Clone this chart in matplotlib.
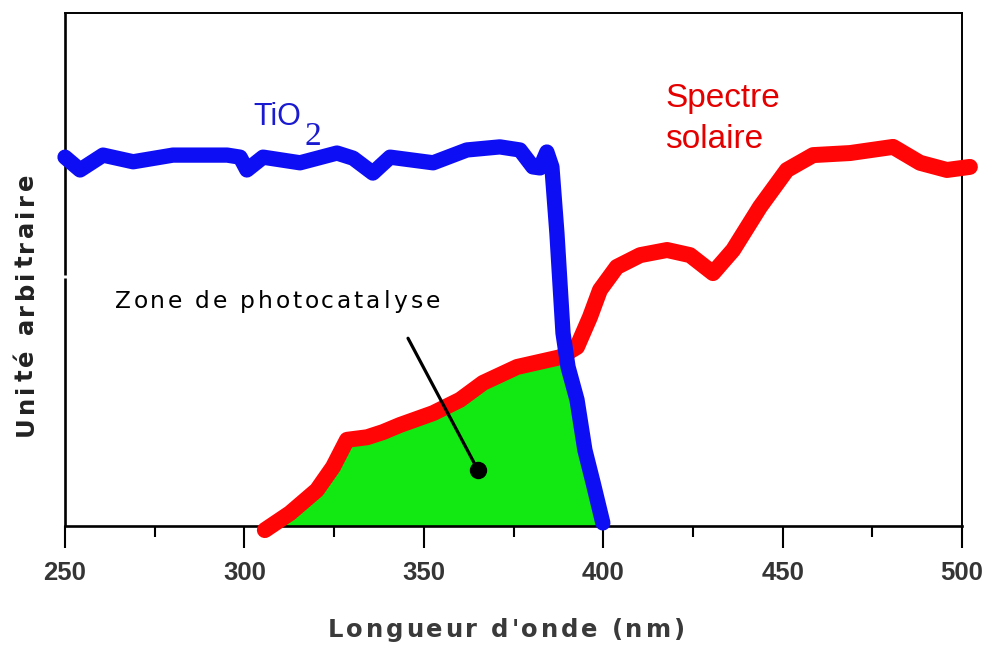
import numpy as np
import matplotlib
matplotlib.use("Agg")
import matplotlib.pyplot as plt
from matplotlib.font_manager import FontProperties

# ---------------- data ----------------
tio2_nm = [250.0, 254.2, 260.6, 269.0, 280.1, 295.2, 298.8, 300.7, 305.2, 315.5,
           325.8, 330.3, 335.8, 340.6, 352.6, 362.0, 371.2, 376.8, 380.4, 382.4,
           384.3, 385.7, 387.1, 388.8, 390.2, 392.7, 394.9, 397.2, 399.9]
tio2_val = [71.9, 69.4, 72.3, 71.0, 72.3, 72.3, 71.9, 69.4, 71.9, 70.8,
            72.7, 71.7, 68.8, 71.9, 70.8, 73.3, 73.9, 73.3, 70.0, 69.8,
            72.9, 70.0, 57.1, 37.6, 31.0, 24.6, 14.8, 8.4, 0.6]

solar_nm = [305.7, 312.7, 320.2, 324.7, 328.6, 334.2, 338.6, 343.4, 352.6, 360.1,
            366.5, 376.0, 388.0, 392.7, 396.3, 399.1, 403.8, 410.3, 417.8, 424.2,
            430.6, 436.2, 443.7, 451.2, 458.5, 468.8, 480.8, 488.3, 495.8, 502.2]
solar_val = [-0.8, 2.5, 7.0, 11.5, 16.8, 17.3, 18.3, 19.7, 22.0, 24.6,
             27.9, 31.0, 32.9, 34.9, 40.7, 46.0, 50.5, 52.8, 53.8, 52.8,
             49.3, 53.8, 62.2, 69.4, 72.3, 72.7, 73.9, 70.8, 69.4, 70.0]

x_major = [250, 300, 350, 400, 450, 500]
x_minor = [275, 325, 375, 425, 475]
x_ticklabels = ["250", "300", "350", "400", "450", "500"]

xlabel = "Longueur d'onde (nm)"
ylabel = "Unité arbitraire"
zone_label = "Zone de photocatalyse"
tio2_label = "TiO"
tio2_sub = "2"
solar_label = ["Spectre", "solaire"]

# ---------------- figure ----------------
W, H = 992, 645
fig = plt.figure(figsize=(W / 100, H / 100), dpi=100)
fig.patch.set_facecolor("white")
ax = fig.add_axes([65 / W, 1 - 526 / H, (962 - 65) / W, (526 - 13) / H])
ax.set_xlim(250, 500)
ax.set_ylim(0, 100)

RED = "#ff0505"
BLUE = "#0e0ef5"
GREEN = "#12e812"

# green photocatalysis zone: under the solar spectrum and under the TiO2 curve
grid = np.linspace(min(solar_nm), max(tio2_nm), 800)
r = np.interp(grid, solar_nm, solar_val)
b = np.interp(grid, tio2_nm, tio2_val)
top = np.clip(np.minimum(r, b), 0, None)
ax.fill_between(grid, 0, top, color=GREEN, lw=0, zorder=1)

ax.plot(solar_nm, solar_val, color=RED, lw=11.5, solid_capstyle="round",
        solid_joinstyle="round", clip_on=False, zorder=3)
ax.plot(tio2_nm, tio2_val, color=BLUE, lw=11, solid_capstyle="round",
        solid_joinstyle="round", clip_on=False, zorder=4)

# annotation pointer
ax.plot([345.6, 365.1], [36.6, 10.9], color="black", lw=2.3, zorder=6,
        solid_capstyle="round")
ax.plot([365.1], [10.9], "o", color="black", ms=11.5, zorder=6)

# spines
for s in ["top", "right"]:
    ax.spines[s].set_linewidth(1.4)
ax.spines["bottom"].set_linewidth(1.9)
ax.spines["left"].set_visible(False)
ax.plot([0, 0], [0, 0.4834], transform=ax.transAxes, color="black", lw=1.9,
        clip_on=False, solid_capstyle="butt")
ax.plot([0, 0], [0.4893, 1.0], transform=ax.transAxes, color="black", lw=1.9,
        clip_on=False, solid_capstyle="butt")

ax.set_yticks([])
ax.set_xticks(x_major)
ax.set_xticks(x_minor, minor=True)
ax.set_xticklabels(x_ticklabels)
ax.tick_params(axis="x", which="major", direction="out", length=16, width=1.5,
               pad=9, labelsize=18.5, labelcolor="#353535")
ax.tick_params(axis="x", which="minor", direction="out", length=8, width=1.5)
for lab in ax.get_xticklabels():
    lab.set_fontfamily("Liberation Sans")
    lab.set_fontweight("bold")

renderer = fig.canvas.get_renderer()


def tracked_text(s, x, y, size, track, weight="normal", color="black",
                 family="DejaVu Sans", rotation=0, ha="left"):
    prop = FontProperties(family=family, weight=weight, size=size)

    def wid(t):
        return renderer.get_text_width_height_descent(t, prop, ismath=False)[0]

    base = wid("xx")
    adv = [wid("x" + c + "x") - base for c in s]
    total = sum(adv) + track * (len(s) - 1)
    if rotation == 0:
        pos = x - total / 2 if ha == "center" else x
        for c, a in zip(s, adv):
            fig.text(pos / W, 1 - y / H, c, ha="left", va="baseline",
                     fontproperties=prop, color=color)
            pos += a + track
    else:
        pos = y + total / 2 if ha == "center" else y
        for c, a in zip(s, adv):
            fig.text(x / W, 1 - pos / H, c, ha="left", va="baseline",
                     rotation=90, rotation_mode="anchor",
                     fontproperties=prop, color=color)
            pos -= a + track


tracked_text(xlabel, 328, 637, 17.5, 2.8, weight="bold", color="#3a3a3a")
tracked_text(ylabel, 33, 305, 17.5, 3.4, weight="bold", color="#222222",
             rotation=90, ha="center")
tracked_text(zone_label, 115, 308, 16.8, 3.2, color="black")

fig.text(253 / W, 1 - 125 / H, tio2_label, ha="left", va="baseline",
         fontsize=22, family="Liberation Sans", color="#1a1ad0")
fig.text(305 / W, 1 - 145 / H, tio2_sub, ha="left", va="baseline",
         fontsize=24, family="Liberation Serif", color="#1a1ad0")

fig.text(665 / W, 1 - 107 / H, solar_label[0], ha="left", va="baseline",
         fontsize=24, family="Liberation Sans", color="#e50000")
fig.text(665 / W, 1 - 148 / H, solar_label[1], ha="left", va="baseline",
         fontsize=24, family="Liberation Sans", color="#e50000")

fig.savefig("out.png", dpi=100, facecolor="white")
